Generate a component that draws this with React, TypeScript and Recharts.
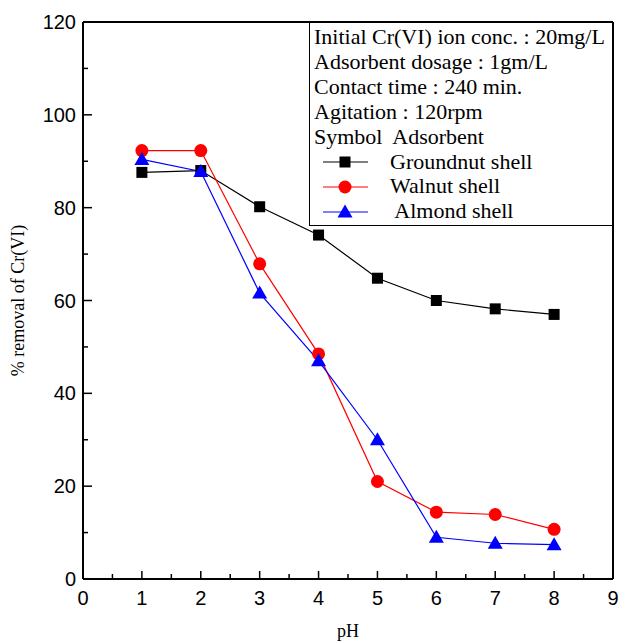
import { LineChart, Line, XAxis, YAxis, ReferenceLine, Legend } from "recharts";

const phValues = [1, 2, 3, 4, 5, 6, 7, 8];
const groundnutShell = [87.6, 88.0, 80.2, 74.1, 64.8, 60.0, 58.2, 57.0];
const walnutShell = [92.3, 92.3, 67.9, 48.5, 21.0, 14.4, 13.9, 10.7];
const almondShell = [90.4, 87.8, 61.6, 47.0, 30.0, 9.0, 7.7, 7.4];

const xTicks = [0, 0.5, 1, 1.5, 2, 2.5, 3, 3.5, 4, 4.5, 5, 5.5, 6, 6.5, 7, 7.5, 8, 8.5, 9];
const yTicks = [0, 10, 20, 30, 40, 50, 60, 70, 80, 90, 100, 110, 120];

const conditions = [
  "Initial Cr(VI) ion conc. : 20mg/L",
  "Adsorbent dosage : 1gm/L",
  "Contact time : 240 min.",
  "Agitation : 120rpm",
  "Symbol  Adsorbent",
];

const series = [
  { key: "groundnut", name: "Groundnut shell", color: "#000000", shape: "square" },
  { key: "walnut", name: "Walnut shell", color: "#ff0000", shape: "circle" },
  { key: "almond", name: " Almond shell", color: "#0000ff", shape: "triangle" },
];

const data = phValues.map((ph, i) => ({
  ph,
  groundnut: groundnutShell[i],
  walnut: walnutShell[i],
  almond: almondShell[i],
}));

function Marker({ cx, cy, shape, color }: any) {
  if (cx == null || cy == null) return null;
  if (shape === "square") {
    return <rect x={cx - 5.5} y={cy - 5.5} width={11} height={11} fill={color} />;
  }
  if (shape === "triangle") {
    return (
      <polygon
        points={`${cx},${cy - 7.5} ${cx - 7.5},${cy + 5.5} ${cx + 7.5},${cy + 5.5}`}
        fill={color}
      />
    );
  }
  return <circle cx={cx} cy={cy} r={6.5} fill={color} />;
}

function YTick({ x, y, payload }: any) {
  const major = payload.value % 20 === 0;
  return (
    <g>
      <line x1={x} x2={x + (major ? 9 : 5)} y1={y} y2={y} stroke="#000" strokeWidth={1.5} />
      {major && (
        <text
          x={x - 7}
          y={y}
          textAnchor="end"
          dominantBaseline="central"
          fontFamily="Liberation Sans, Arial, sans-serif"
          fontSize={20}
          fill="#000"
        >
          {payload.value}
        </text>
      )}
    </g>
  );
}

function XTick({ x, y, payload }: any) {
  const major = Number.isInteger(payload.value);
  return (
    <g>
      <line x1={x} x2={x} y1={y} y2={y - (major ? 8 : 5)} stroke="#000" strokeWidth={1.5} />
      {major && (
        <text
          x={x}
          y={y + 26}
          textAnchor="middle"
          fontFamily="Liberation Sans, Arial, sans-serif"
          fontSize={20}
          fill="#000"
        >
          {payload.value}
        </text>
      )}
    </g>
  );
}

function ConditionsBox() {
  const font = "Liberation Serif, Times New Roman, serif";
  return (
    <div
      style={{
        width: 304,
        height: 204,
        boxSizing: "border-box",
        borderLeft: "1.5px solid #000",
        borderBottom: "1.5px solid #000",
        fontFamily: font,
        fontSize: 22,
        lineHeight: "24.9px",
        color: "#000",
        paddingLeft: 4,
        paddingTop: 3,
        whiteSpace: "pre",
      }}
    >
      {conditions.map((t) => (
        <div key={t}>{t}</div>
      ))}
      {series.map((s) => (
        <div key={s.key} style={{ display: "flex", alignItems: "center", height: 24.9 }}>
          <svg width={75} height={20} style={{ marginLeft: -4 }}>
            <line x1={13} x2={58} y1={10} y2={10} stroke={s.color} strokeWidth={1.2} />
            <Marker cx={35} cy={10} shape={s.shape} color={s.color} />
          </svg>
          <span style={{ marginLeft: 5 }}>{s.name}</span>
        </div>
      ))}
    </div>
  );
}

export default function App() {
  return (
    <div style={{ position: "absolute", left: 0, top: 0, width: 620, height: 643, background: "#fff" }}>
      <LineChart
        width={620}
        height={643}
        data={data}
        margin={{ top: 22, right: 7, left: 0, bottom: 0 }}
      >
        <XAxis
          dataKey="ph"
          type="number"
          domain={[0, 9]}
          ticks={xTicks}
          interval={0}
          height={64}
          tickSize={0}
          tickMargin={0}
          tick={<XTick />}
          axisLine={{ stroke: "#000", strokeWidth: 2 }}
          label={{
            value: "pH",
            position: "insideBottom",
            offset: 6,
            fontFamily: "Liberation Serif, Times New Roman, serif",
            fontSize: 18,
            fill: "#000",
          }}
        />
        <YAxis
          type="number"
          domain={[0, 120]}
          ticks={yTicks}
          interval={0}
          width={83}
          tickSize={0}
          tickMargin={0}
          tick={<YTick />}
          axisLine={{ stroke: "#000", strokeWidth: 2 }}
          label={{
            value: "% removal of Cr(VI)",
            angle: -90,
            position: "insideLeft",
            offset: 18,
            style: { textAnchor: "middle" },
            fontFamily: "Liberation Serif, Times New Roman, serif",
            fontSize: 18,
            fill: "#000",
          }}
        />
        <ReferenceLine y={120} stroke="#000" strokeWidth={2} />
        <ReferenceLine x={9} stroke="#000" strokeWidth={2} />
        <Legend
          layout="horizontal"
          verticalAlign="middle"
          align="center"
          wrapperStyle={{ left: 309, top: 22, width: 304, height: 204 }}
          content={() => <ConditionsBox />}
        />
        {series.map((s) => (
          <Line
            key={s.key}
            dataKey={s.key}
            name={s.name}
            stroke={s.color}
            strokeWidth={1.2}
            isAnimationActive={false}
            dot={(p: any) => <Marker key={`${s.key}-${p.index}`} cx={p.cx} cy={p.cy} shape={s.shape} color={s.color} />}
            activeDot={false}
          />
        ))}
      </LineChart>
    </div>
  );
}
